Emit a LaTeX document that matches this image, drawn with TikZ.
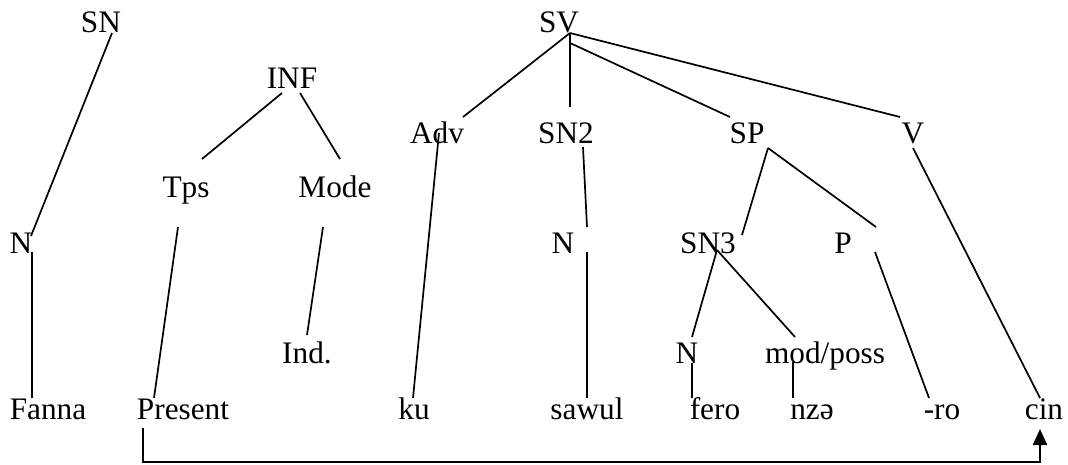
\documentclass[tikz,border=0pt]{standalone}
\usepackage{fontspec}
\setmainfont{Liberation Serif}
\usetikzlibrary{calc,arrows.meta}
\begin{document}
\begin{tikzpicture}[x=1pt,y=-1pt,
  lbl/.style={anchor=base,inner sep=0pt,font=\fontsize{31.3}{36}\selectfont},
  edge/.style={line width=1.7pt},
  link/.style={line width=2.2pt,-{Triangle[width=14pt,length=16pt]}}]
\useasboundingbox (0,0) rectangle (1068,464);
% nodes
\node[lbl] (SN) at (101,32) {SN};
\node[lbl] (INF) at (292,88) {INF};
\node[lbl] (SV) at (559,32) {SV};
\node[lbl] (Tps) at (186,197) {Tps};
\node[lbl] (Mode) at (335,197) {Mode};
\node[lbl] (Adv) at (437,143) {Adv};
\node[lbl] (SNii) at (566,143) {SN2};
\node[lbl] (SP) at (747,143) {SP};
\node[lbl] (V) at (913,143) {V};
\node[lbl] (Na) at (21,253) {N};
\node[lbl] (Nb) at (563,253) {N};
\node[lbl] (SNiii) at (708,253) {SN3};
\node[lbl] (P) at (843,253) {P};
\node[lbl] (Ind) at (307,363) {Ind.};
\node[lbl] (Nc) at (687,363) {N};
\node[lbl] (mod) at (825,363) {mod/poss};
\node[lbl] (Fanna) at (48,419) {Fanna};
\node[lbl] (Present) at (183,419) {Present};
\node[lbl] (ku) at (414,419) {ku};
\node[lbl] (sawul) at (587,419) {sawul};
\node[lbl] (fero) at (715,419) {fero};
\node[lbl] (nze) at (812,419) {nzə};
\node[lbl] (ro) at (942,419) {-ro};
\node[lbl] (cin) at (1044,419) {cin};
% edges
\draw[edge] ($(SN.base)+(11,1)$) -- ($(Na.base)+(10,-17)$);
\draw[edge] ($(Na.base)+(11,-1)$) -- ($(Fanna.base)+(-16,-21)$);
\draw[edge] ($(INF.base)+(-10,5)$) -- ($(Tps.base)+(16,-38)$);
\draw[edge] ($(INF.base)+(8,5)$) -- ($(Mode.base)+(5,-38)$);
\draw[edge] ($(Tps.base)+(-8,30)$) -- ($(Present.base)+(-29,-21)$);
\draw[edge] ($(Mode.base)+(-12,30)$) -- ($(Ind.base)+(0,-28)$);
\draw[edge] ($(SV.base)+(11,1)$) -- ($(Adv.base)+(26,-26)$);
\draw[edge] ($(SV.base)+(11,1)$) -- ($(SNii.base)+(4,-36)$);
\draw[edge] ($(SV.base)+(11,11)$) -- ($(SP.base)+(-17,-26)$);
\draw[edge] ($(SV.base)+(11,1)$) -- ($(V.base)+(-13,-26)$);
\draw[edge] ($(Adv.base)+(2,-10)$) -- ($(ku.base)+(-1,-21)$);
\draw[edge] ($(SNii.base)+(17,4)$) -- ($(Nb.base)+(24,-26)$);
\draw[edge] ($(Nb.base)+(24,-1)$) -- ($(sawul.base)+(0,-21)$);
\draw[edge] ($(SP.base)+(21,5)$) -- ($(SNiii.base)+(34,-18)$);
\draw[edge] ($(SP.base)+(21,5)$) -- ($(P.base)+(33,-26)$);
\draw[edge] ($(V.base)+(0,5)$) -- ($(cin.base)+(-4,-21)$);
\draw[edge] ($(SNiii.base)+(9,-3)$) -- ($(Nc.base)+(5,-26)$);
\draw[edge] ($(SNiii.base)+(9,-3)$) -- ($(mod.base)+(-30,-26)$);
\draw[edge] ($(P.base)+(32,-1)$) -- ($(ro.base)+(-13,-21)$);
\draw[edge] ($(Nc.base)+(5,0)$) -- ($(fero.base)+(-23,-21)$);
\draw[edge] ($(mod.base)+(-32,-1)$) -- ($(nze.base)+(-19,-21)$);
% link
\coordinate (bl) at ($(Present.base)+(-40,43)$);
\coordinate (br) at ($(cin.base)+(-4,43)$);
\draw[link] ($(Present.base)+(-40,9)$) -- (bl) -- (br) -- ($(cin.base)+(-4,10)$);
\end{tikzpicture}
\end{document}
